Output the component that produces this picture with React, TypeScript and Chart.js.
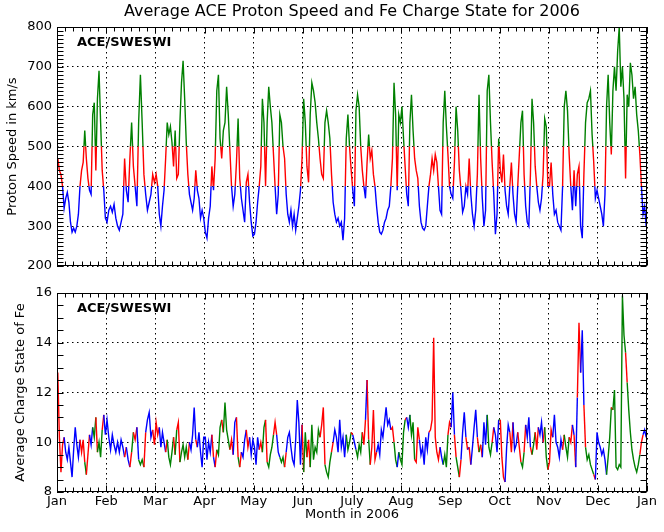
import { useEffect, useRef } from "react";
import { Chart, registerables } from "chart.js";

Chart.register(...registerables);
Chart.defaults.font.family = "'DejaVu Sans', sans-serif";
Chart.defaults.font.size = 13;
Chart.defaults.color = "#000";

const monthLabels = ["Jan", "Feb", "Mar", "Apr", "May", "Jun", "July", "Aug", "Sep", "Oct", "Nov", "Dec", "Jan"];
const daysInMonth = [31, 28, 31, 30, 31, 30, 31, 31, 30, 31, 30, 31];

// daily proton speed, km/s
const speedJan = [470, 440, 430, 400, 345, 370, 385, 360, 310, 285, 295, 285, 300, 330, 400, 440, 460, 540, 470, 420, 390, 380, 580, 610, 440, 620, 690, 560, 440, 390, 320];
const speedFeb = [310, 340, 350, 335, 355, 320, 300, 290, 310, 330, 470, 390, 360, 470, 560, 450, 400, 350, 560, 680, 560, 430, 380, 340, 360, 380, 430, 410];
const speedMar = [430, 400, 330, 300, 350, 390, 470, 560, 530, 550, 510, 450, 540, 420, 430, 560, 660, 715, 620, 510, 430, 380, 360, 340, 370, 440, 390, 370, 320, 340, 320];
const speedApr = [285, 270, 320, 350, 450, 390, 470, 640, 680, 520, 470, 540, 560, 650, 580, 490, 400, 350, 380, 460, 570, 420, 370, 340, 310, 410, 430, 360, 310, 275];
const speedMay = [280, 310, 360, 400, 450, 620, 560, 400, 560, 650, 600, 560, 480, 400, 330, 380, 580, 560, 500, 470, 380, 330, 310, 340, 300, 330, 290, 320, 350, 390, 470];
const speedJun = [620, 560, 450, 410, 580, 660, 640, 610, 560, 520, 470, 430, 420, 560, 590, 560, 520, 430, 360, 330, 310, 320, 300, 310, 265, 320, 520, 580, 500, 440];
const speedJul = [390, 350, 590, 630, 600, 500, 440, 400, 370, 460, 530, 470, 490, 430, 400, 350, 310, 285, 280, 290, 310, 320, 340, 350, 400, 470, 660, 580, 390, 580, 560];
const speedAug = [600, 520, 450, 380, 350, 560, 630, 540, 470, 440, 420, 350, 310, 295, 290, 300, 350, 400, 430, 470, 440, 480, 460, 400, 340, 330, 560, 640, 550, 480, 400];
const speedSep = [380, 370, 460, 600, 540, 440, 390, 335, 350, 400, 380, 470, 380, 330, 300, 340, 430, 630, 470, 370, 300, 340, 640, 680, 560, 460, 380, 280, 330, 520];
const speedOct = [440, 410, 480, 390, 350, 330, 400, 460, 380, 330, 310, 400, 480, 560, 590, 430, 350, 310, 300, 430, 620, 560, 450, 400, 360, 340, 370, 430, 570, 550, 400];
const speedNov = [400, 460, 380, 330, 340, 310, 300, 290, 400, 600, 640, 590, 480, 400, 340, 440, 350, 430, 450, 300, 270, 430, 560, 610, 620, 640, 530, 460, 370, 390];
const speedDec = [370, 350, 330, 300, 380, 600, 680, 560, 480, 640, 700, 640, 740, 800, 650, 700, 620, 420, 630, 600, 710, 680, 620, 650, 580, 540, 480, 400, 330, 350, 300];

// daily average Fe charge state
const feJan = [12.8, 10.2, 8.8, 9.9, 10.2, 9.6, 9.3, 9.8, 9.2, 8.6, 9.7, 10.6, 9.9, 9.4, 10.1, 9.6, 10.1, 9.2, 8.7, 9.5, 10.3, 9.9, 10.6, 10.2, 11.0, 9.6, 10.0, 9.4, 10.5, 11.1, 10.3];
const feFeb = [10.9, 10.2, 9.7, 10.3, 9.9, 9.6, 10.0, 9.6, 10.1, 9.8, 9.4, 9.8, 9.3, 9.0, 9.6, 10.4, 10.1, 10.6, 9.3, 9.1, 9.3, 9.0, 10.4, 10.9, 11.2, 10.2, 10.5, 9.9];
const feMar = [10.8, 10.3, 10.6, 9.8, 10.4, 10.0, 9.6, 10.1, 9.4, 9.1, 9.6, 10.2, 9.5, 10.5, 10.8, 9.2, 9.6, 9.9, 9.4, 9.8, 9.3, 10.0, 9.7, 10.3, 11.4, 10.1, 9.8, 10.4, 9.6, 9.0, 10.2];
const feApr = [10.2, 9.3, 10.0, 9.6, 10.3, 9.4, 9.0, 9.7, 9.5, 10.6, 10.9, 10.4, 11.6, 10.5, 10.1, 9.7, 10.1, 9.5, 10.8, 11.0, 9.4, 9.0, 9.6, 9.4, 10.1, 10.5, 9.8, 10.2, 9.5, 10.1];
const feMay = [9.8, 9.1, 10.2, 9.7, 10.0, 9.6, 10.6, 10.9, 9.2, 9.0, 9.5, 9.8, 10.3, 10.8, 10.3, 9.6, 9.4, 9.2, 9.4, 9.0, 9.6, 10.2, 10.4, 9.8, 9.3, 9.1, 10.1, 11.7, 10.8, 9.1, 10.7];
const feJun = [8.8, 10.4, 9.4, 10.1, 9.0, 10.7, 9.3, 9.8, 9.6, 10.5, 10.2, 10.7, 11.4, 9.1, 8.8, 8.6, 9.2, 9.6, 10.0, 10.5, 10.2, 9.6, 10.9, 9.8, 10.2, 9.4, 10.3, 9.7, 10.0, 10.4];
const feJul = [10.3, 10.0, 9.7, 9.4, 9.9, 9.6, 10.4, 9.9, 10.9, 12.5, 10.1, 9.1, 9.8, 11.3, 9.3, 9.6, 9.9, 9.5, 10.5, 10.2, 10.8, 11.4, 10.7, 10.9, 10.5, 10.6, 10.0, 9.3, 9.0, 9.6, 9.3];
const feAug = [9.1, 10.4, 10.9, 11.0, 10.6, 11.1, 10.3, 10.8, 9.3, 9.2, 10.6, 10.1, 9.5, 9.8, 9.1, 10.2, 9.7, 10.4, 10.5, 10.9, 14.2, 10.2, 9.6, 9.3, 9.8, 9.4, 9.1, 9.5, 9.0, 10.3, 10.8];
const feSep = [10.6, 12.0, 10.3, 9.4, 9.0, 8.6, 9.3, 10.4, 11.2, 10.2, 9.7, 9.8, 9.1, 9.8, 10.6, 11.3, 10.2, 9.6, 9.9, 9.4, 10.8, 9.9, 11.1, 9.8, 9.5, 10.0, 10.6, 10.3, 9.6, 10.9];
const feOct = [10.9, 9.4, 8.6, 8.4, 9.8, 10.7, 10.4, 9.6, 10.8, 9.7, 9.9, 10.4, 9.8, 9.2, 9.0, 9.6, 10.7, 10.2, 11.0, 9.8, 9.5, 9.9, 10.4, 9.7, 10.6, 10.3, 10.8, 10.0, 10.6, 9.4, 8.9];
const feNov = [9.2, 10.5, 10.2, 11.1, 10.0, 9.8, 9.4, 10.1, 9.7, 10.3, 9.8, 9.4, 10.2, 10.0, 10.7, 10.3, 9.0, 11.8, 14.8, 12.8, 14.5, 11.5, 9.8, 9.3, 9.5, 9.1, 8.9, 8.7, 8.5, 10.4];
const feDec = [10.0, 9.8, 9.5, 9.7, 9.3, 8.7, 9.4, 10.2, 11.4, 11.3, 12.1, 9.0, 8.9, 9.1, 9.0, 15.9, 14.3, 13.6, 12.4, 11.3, 10.4, 9.7, 9.3, 9.0, 8.8, 9.1, 9.5, 10.0, 10.3, 10.5, 10.2];

const speedByMonth = [speedJan, speedFeb, speedMar, speedApr, speedMay, speedJun, speedJul, speedAug, speedSep, speedOct, speedNov, speedDec];
const feByMonth = [feJan, feFeb, feMar, feApr, feMay, feJun, feJul, feAug, feSep, feOct, feNov, feDec];

const speedBands = [400, 500]; // slow / medium / fast wind
const BLUE = "#0000ff";
const RED = "#ff0000";
const GREEN = "#008000";

const bandColor = (v: number) => (v < speedBands[0] ? BLUE : v < speedBands[1] ? RED : GREEN);

// x is in months: each month gets equal width, like the original plot
const toPoints = (rows: number[][]) =>
  rows.flatMap((row, m) => row.map((y, d) => ({ x: m + (d + 0.5) / daysInMonth[m], y })));

const monthTicks = (scale: any) => {
  scale.ticks = monthLabels.map((_, i) => ({ value: i }));
};

// clip each speed copy to its own band so the line changes colour at 400 and 500
const bandClip = {
  id: "bandClip",
  beforeDatasetDraw(chart: any, args: any) {
    const band = chart.data.datasets[args.index].band;
    if (!band) return;
    const a = chart.chartArea;
    const top = chart.scales.y.getPixelForValue(band[1]);
    const bottom = chart.scales.y.getPixelForValue(band[0]);
    chart.ctx.save();
    chart.ctx.beginPath();
    chart.ctx.rect(a.left - 2, top, a.width + 4, bottom - top);
    chart.ctx.clip();
  },
  afterDatasetDraw(chart: any, args: any) {
    if (chart.data.datasets[args.index].band) chart.ctx.restore();
  },
};

// matplotlib-like box with inward ticks, panel tag and title
const frame = {
  id: "frame",
  afterDraw(chart: any, _args: any, opts: any) {
    const { ctx, chartArea: a } = chart;
    const xs = chart.scales.x;
    const ys = chart.scales.y;
    const L = Math.round(a.left) + 0.5;
    const R = Math.round(a.right) - 0.5;
    const T = Math.round(a.top) + 0.5;
    const B = Math.round(a.bottom) - 0.5;
    ctx.save();
    ctx.strokeStyle = "#000";
    ctx.lineWidth = 1;
    ctx.beginPath();
    for (let m = 0; m <= 12; m++) {
      for (let k = 0; k < 6; k++) {
        if (m === 12 && k > 0) break;
        const px = Math.round(xs.getPixelForValue(m + k / 6)) + 0.5;
        const len = k === 0 ? 6 : 4;
        ctx.moveTo(px, B);
        ctx.lineTo(px, B - len);
        ctx.moveTo(px, T);
        ctx.lineTo(px, T + len);
      }
    }
    const n = Math.round((ys.max - ys.min) / opts.yStep);
    for (let i = 0; i <= n; i++) {
      const py = Math.round(ys.getPixelForValue(ys.min + i * opts.yStep)) + 0.5;
      ctx.moveTo(L, py);
      ctx.lineTo(L + 6, py);
      ctx.moveTo(R, py);
      ctx.lineTo(R - 6, py);
    }
    ctx.stroke();
    ctx.strokeRect(L, T, R - L, B - T);
    ctx.fillStyle = "#000";
    ctx.textBaseline = "middle";
    ctx.textAlign = "left";
    ctx.font = "bold 13px 'DejaVu Sans', sans-serif";
    ctx.fillText(opts.tag, a.left + 20, a.top + 16);
    if (opts.title) {
      ctx.textAlign = "center";
      ctx.font = "16px 'DejaVu Sans', sans-serif";
      ctx.fillText(opts.title, (a.left + a.right) / 2, a.top - 15.5);
    }
    ctx.restore();
  },
};

const dottedGrid = {
  grid: { color: "#000", lineWidth: 1, drawTicks: false },
  border: { display: false, dash: [1.5, 3.5] },
};

const App = () => {
  const speedRef = useRef<HTMLCanvasElement>(null);
  const feRef = useRef<HTMLCanvasElement>(null);

  useEffect(() => {
    const speedPoints = toPoints(speedByMonth);
    const bands = [
      { color: BLUE, range: [0, speedBands[0]] },
      { color: RED, range: [speedBands[0], speedBands[1]] },
      { color: GREEN, range: [speedBands[1], 5000] },
    ];

    const top = new Chart(speedRef.current!, {
      type: "line",
      data: {
        datasets: bands.map((b) => ({
          data: speedPoints.map((p) => ({ ...p })),
          borderColor: b.color,
          borderWidth: 1.4,
          pointRadius: 0,
          band: b.range,
        })) as any,
      },
      options: {
        responsive: false,
        animation: false,
        layout: { padding: { left: 0, right: 17, top: 27, bottom: 14 } },
        plugins: {
          legend: { display: false },
          tooltip: { enabled: false },
          frame: { yStep: 10, tag: "ACE/SWESWI", title: "Average ACE Proton Speed and Fe Charge State for 2006" },
        } as any,
        scales: {
          x: {
            type: "linear",
            min: 0,
            max: 12,
            afterBuildTicks: monthTicks,
            ticks: { display: false },
            afterFit: (s: any) => {
              s.height = 0;
            },
            ...dottedGrid,
          },
          y: {
            min: 200,
            max: 800,
            ticks: { stepSize: 100, padding: 5 },
            title: { display: true, text: "Proton Speed in km/s", padding: { top: 5, bottom: 0 } },
            afterFit: (s: any) => {
              s.width = 57;
            },
            ...dottedGrid,
          },
        },
      },
      plugins: [bandClip, frame],
    });

    const speedFlat = speedByMonth.flat();
    const bottom = new Chart(feRef.current!, {
      type: "line",
      data: {
        datasets: [
          {
            data: toPoints(feByMonth),
            borderColor: BLUE,
            borderWidth: 1.4,
            pointRadius: 0,
            segment: { borderColor: (c: any) => bandColor(speedFlat[c.p0DataIndex]) },
          },
        ],
      },
      options: {
        responsive: false,
        animation: false,
        layout: { padding: { left: 0, right: 17, top: 13, bottom: 0 } },
        plugins: {
          legend: { display: false },
          tooltip: { enabled: false },
          frame: { yStep: 0.5, tag: "ACE/SWESWI" },
        } as any,
        scales: {
          x: {
            type: "linear",
            min: 0,
            max: 12,
            afterBuildTicks: monthTicks,
            ticks: {
              padding: 2,
              autoSkip: false,
              maxRotation: 0,
              callback: (v: any) => monthLabels[Math.round(Number(v))],
            },
            title: { display: true, text: "Month in 2006", padding: { top: 0, bottom: 10 } },
            afterFit: (s: any) => {
              s.height = 40;
            },
            ...dottedGrid,
          },
          y: {
            min: 8,
            max: 16,
            ticks: { stepSize: 2, padding: 5 },
            title: { display: true, text: "Average Charge State of Fe", padding: { top: 13, bottom: 0 } },
            afterFit: (s: any) => {
              s.width = 57;
            },
            ...dottedGrid,
          },
        },
      },
      plugins: [frame],
    });

    return () => {
      top.destroy();
      bottom.destroy();
    };
  }, []);

  return (
    <div style={{ position: "absolute", left: 0, top: 0, width: 664, height: 532, background: "#fff" }}>
      <canvas ref={speedRef} width={664} height={280} style={{ display: "block" }} />
      <canvas ref={feRef} width={664} height={252} style={{ display: "block" }} />
    </div>
  );
};

export default App;
